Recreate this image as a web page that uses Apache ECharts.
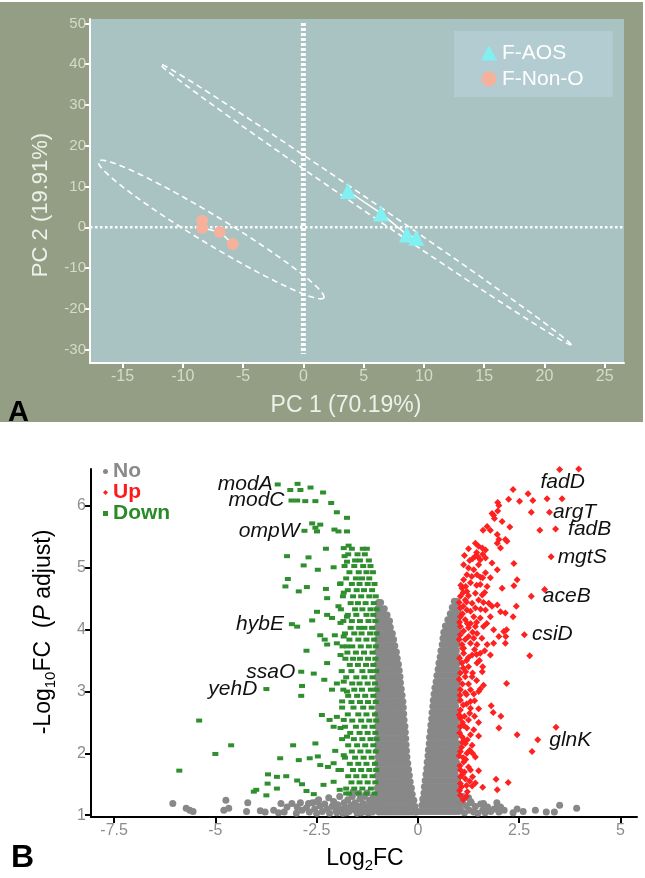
<!DOCTYPE html>
<html><head><meta charset="utf-8">
<script src="https://cdn.jsdelivr.net/npm/echarts@6.0.0/dist/echarts.min.js"></script>
<style>html,body{margin:0;padding:0;background:#fff}#c{width:645px;height:878px}</style>
</head><body><div id="c"></div><script>
// ---------- Panel A data (PCA) ----------
const aosPC1 = [3.7, 6.44, 8.59, 9.36];
const aosPC2 = [8.9, 3.4, -1.8, -2.6];
const nonPC1 = [-8.4, -8.4, -6.93, -5.86];
const nonPC2 = [1.6, -0.2, -1.15, -4.1];
// ellipse: centre x, centre y, half major vector (x,y), half minor vector (x,y)
const ellipseAOS = [5.17, 5.6, 17.03, -34.4, 0.28, 1.22];
const ellipseNon = [-7.65, -0.55, 9.34, -16.75, 0.6, 2.94];
const refVertical = [[0, 50.1], [0, -31.1]];
const refHorizontal = [[-17.7, 0], [26.5, 0]];
const pcaXTicks = [-15, -10, -5, 0, 5, 10, 15, 20, 25];
const pcaYTicks = [-30, -20, -10, 0, 10, 20, 30, 40, 50];

// ---------- Panel B data (volcano) ----------
const volXTicks = [-7.5, -5, -2.5, 0, 2.5, 5];
const volYTicks = [1, 2, 3, 4, 5, 6];
const grayLeftRows = [
[4.44,[-0.97,-0.92]],
[4.34,[-0.99,-0.91,-0.83]],
[4.24,[-1.0,-0.92,-0.84,-0.76]],
[4.14,[-0.99,-0.91,-0.83,-0.75,-0.7]],
[4.04,[-1.0,-0.92,-0.84,-0.76,-0.68]],
[3.94,[-0.98,-0.9,-0.82,-0.74,-0.66,-0.63]],
[3.84,[-1.0,-0.92,-0.84,-0.76,-0.68,-0.6]],
[3.74,[-0.99,-0.91,-0.83,-0.75,-0.67,-0.59,-0.57]],
[3.64,[-1.0,-0.92,-0.84,-0.76,-0.68,-0.6,-0.53]],
[3.54,[-0.98,-0.9,-0.82,-0.74,-0.66,-0.58,-0.51]],
[3.44,[-1.0,-0.92,-0.84,-0.76,-0.68,-0.6,-0.52,-0.48]],
[3.34,[-0.99,-0.91,-0.83,-0.75,-0.67,-0.59,-0.51,-0.46]],
[3.24,[-1.0,-0.92,-0.84,-0.76,-0.68,-0.6,-0.52,-0.44]],
[3.14,[-0.98,-0.9,-0.82,-0.74,-0.66,-0.58,-0.5,-0.43]],
[3.04,[-1.0,-0.92,-0.84,-0.76,-0.68,-0.6,-0.52,-0.44,-0.41]],
[2.94,[-0.99,-0.91,-0.83,-0.75,-0.67,-0.59,-0.51,-0.43,-0.39]],
[2.84,[-1.0,-0.92,-0.84,-0.76,-0.68,-0.6,-0.52,-0.44,-0.37]],
[2.74,[-0.98,-0.9,-0.82,-0.74,-0.66,-0.58,-0.5,-0.42,-0.36]],
[2.64,[-1.0,-0.92,-0.84,-0.76,-0.68,-0.6,-0.52,-0.44,-0.35]],
[2.54,[-0.99,-0.91,-0.83,-0.75,-0.67,-0.59,-0.51,-0.43,-0.34]],
[2.44,[-1.0,-0.92,-0.84,-0.76,-0.68,-0.6,-0.52,-0.44,-0.36,-0.32]],
[2.34,[-0.98,-0.9,-0.82,-0.74,-0.66,-0.58,-0.5,-0.42,-0.34,-0.31]],
[2.24,[-1.0,-0.92,-0.84,-0.76,-0.68,-0.6,-0.52,-0.44,-0.36,-0.3]],
[2.14,[-0.99,-0.91,-0.83,-0.75,-0.67,-0.59,-0.51,-0.43,-0.35,-0.29]],
[2.04,[-1.0,-0.92,-0.84,-0.76,-0.68,-0.6,-0.52,-0.44,-0.36,-0.28]],
[1.94,[-0.98,-0.9,-0.82,-0.74,-0.66,-0.58,-0.5,-0.42,-0.34,-0.27]],
[1.84,[-1.0,-0.92,-0.84,-0.76,-0.68,-0.6,-0.52,-0.44,-0.36,-0.28,-0.25]],
[1.74,[-0.99,-0.91,-0.83,-0.75,-0.67,-0.59,-0.51,-0.43,-0.35,-0.27,-0.23]],
[1.64,[-1.0,-0.92,-0.84,-0.76,-0.68,-0.6,-0.52,-0.44,-0.36,-0.28,-0.21]],
[1.54,[-0.98,-0.9,-0.82,-0.74,-0.66,-0.58,-0.5,-0.42,-0.34,-0.26,-0.19]],
[1.44,[-1.0,-0.92,-0.84,-0.76,-0.68,-0.6,-0.52,-0.44,-0.36,-0.28,-0.2,-0.16]],
[1.34,[-1.02,-0.94,-0.86,-0.78,-0.7,-0.62,-0.54,-0.46,-0.38,-0.3,-0.22,-0.14]],
[1.24,[-1.04,-0.96,-0.88,-0.8,-0.72,-0.64,-0.56,-0.48,-0.4,-0.32,-0.24,-0.16,-0.1]],
[1.14,[-1.0,-0.92,-0.84,-0.76,-0.68,-0.6,-0.52,-0.44,-0.36,-0.28,-0.2,-0.12,-0.07]],
[1.05,[-0.96,-0.88,-0.8,-0.72,-0.64,-0.56,-0.48,-0.4,-0.32,-0.24,-0.16,-0.08,-0.03]]
];
const grayRightRows = [
[4.46,[0.9,0.96]],
[4.36,[0.85,0.92,0.98]],
[4.26,[0.8,0.87,0.94,1.0]],
[4.16,[0.74,0.81,0.88,0.95]],
[4.06,[0.68,0.76,0.83,0.9,0.97]],
[3.96,[0.64,0.71,0.79,0.86,0.93,0.99]],
[3.86,[0.62,0.7,0.77,0.85,0.92,0.98]],
[3.76,[0.6,0.68,0.76,0.83,0.9,0.97]],
[3.66,[0.57,0.65,0.73,0.81,0.88,0.95]],
[3.56,[0.55,0.63,0.71,0.79,0.87,0.94,0.99]],
[3.46,[0.52,0.6,0.68,0.76,0.84,0.92,0.98]],
[3.36,[0.5,0.58,0.66,0.74,0.82,0.9,0.97]],
[3.26,[0.47,0.55,0.63,0.71,0.79,0.87,0.95]],
[3.16,[0.45,0.53,0.61,0.69,0.77,0.85,0.93,0.99]],
[3.06,[0.42,0.5,0.58,0.66,0.74,0.82,0.9,0.97]],
[2.96,[0.4,0.48,0.56,0.64,0.72,0.8,0.88,0.95]],
[2.86,[0.38,0.46,0.54,0.62,0.7,0.78,0.86,0.94,0.99]],
[2.76,[0.37,0.45,0.53,0.61,0.69,0.77,0.85,0.93]],
[2.66,[0.35,0.43,0.51,0.59,0.67,0.75,0.83,0.91,0.98]],
[2.56,[0.34,0.42,0.5,0.58,0.66,0.74,0.82,0.9,0.97]],
[2.46,[0.32,0.4,0.48,0.56,0.64,0.72,0.8,0.88,0.95]],
[2.36,[0.31,0.39,0.47,0.55,0.63,0.71,0.79,0.87,0.94,0.99]],
[2.26,[0.29,0.37,0.45,0.53,0.61,0.69,0.77,0.85,0.93]],
[2.16,[0.28,0.36,0.44,0.52,0.6,0.68,0.76,0.84,0.92,0.98]],
[2.06,[0.26,0.34,0.42,0.5,0.58,0.66,0.74,0.82,0.9,0.97]],
[1.96,[0.25,0.33,0.41,0.49,0.57,0.65,0.73,0.81,0.89,0.96]],
[1.86,[0.23,0.31,0.39,0.47,0.55,0.63,0.71,0.79,0.87,0.95]],
[1.76,[0.22,0.3,0.38,0.46,0.54,0.62,0.7,0.78,0.86,0.94,0.99]],
[1.66,[0.2,0.28,0.36,0.44,0.52,0.6,0.68,0.76,0.84,0.92]],
[1.56,[0.18,0.26,0.34,0.42,0.5,0.58,0.66,0.74,0.82,0.9,0.97]],
[1.46,[0.16,0.24,0.32,0.4,0.48,0.56,0.64,0.72,0.8,0.88,0.96]],
[1.36,[0.15,0.23,0.31,0.39,0.47,0.55,0.63,0.71,0.79,0.87,0.95]],
[1.26,[0.12,0.2,0.28,0.36,0.44,0.52,0.6,0.68,0.76,0.84,0.92,1.0]],
[1.16,[0.1,0.18,0.26,0.34,0.42,0.5,0.58,0.66,0.74,0.82,0.9,0.98]],
[1.06,[0.05,0.12,0.2,0.28,0.36,0.44,0.52,0.6,0.68,0.76,0.84,0.92,1.0]]
];
const grayScatter = [
[-6.05,1.19],[-5.72,1.11],[-5.63,1.08],[-5.55,1.06],[-4.74,1.24],[-4.79,1.08],[-4.67,1.11],[-4.2,1.2],[-4.23,1.06],
[-3.89,1.07],[-3.77,1.05],[-3.56,1.08],[-3.44,1.04],[-3.38,1.19],[-3.3,1.05],[-3.23,1.13],[-3.11,1.19],[-3.0,1.03],
[-2.98,1.13],[-2.9,1.2],[-2.86,1.08],[-2.75,1.12],[-2.7,1.19],[-2.68,1.05],[-2.6,1.2],[-2.55,1.1],[-2.5,1.03],
[-2.49,1.22],[-2.45,1.25],[-2.42,1.15],[-2.36,1.06],[-2.3,1.18],[-2.25,1.1],[-2.2,1.28],[-2.18,1.03],[-2.12,1.14],
[-2.08,1.22],[-2.02,1.07],[-2.0,1.04],[-1.98,1.17],[-1.93,1.3],[-1.9,1.1],[-1.88,1.08],[-1.85,1.03],[-1.82,1.2],
[-1.78,1.12],[-1.76,1.04],[-1.73,1.25],[-1.7,1.06],[-1.65,1.16],[-1.64,1.1],[-1.62,1.3],[-1.6,1.38],[-1.58,1.09],
[-1.55,1.2],[-1.52,1.07],[-1.5,1.03],[-1.47,1.14],[-1.45,1.35],[-1.43,1.26],[-1.4,1.08],[-1.4,1.04],[-1.35,1.19],
[-1.32,1.3],[-1.3,1.12],[-1.28,1.05],[-1.25,1.14],[-1.25,1.36],[-1.22,1.04],[-1.2,1.24],[-1.17,1.07],[-1.13,1.17],
[-1.12,1.05],[-1.1,1.3],[-1.06,1.1],[-1.03,1.2],
[1.05,1.1],[1.1,1.2],[1.12,1.3],[1.15,1.04],[1.2,1.15],[1.25,1.28],[1.27,1.08],[1.3,1.22],[1.32,1.2],[1.38,1.05],
[1.42,1.14],[1.48,1.03],[1.55,1.18],[1.6,1.08],[1.62,1.19],[1.66,1.04],[1.72,1.13],[1.8,1.06],[1.88,1.1],[1.95,1.2],
[1.96,1.13],[2.0,1.05],[2.04,1.13],[2.13,1.08],[2.35,1.04],[2.45,1.1],[2.6,1.06],[2.9,1.08],[3.17,1.05],[3.37,1.05],
[3.5,1.16],[3.92,1.11]
];
const greenRows = [
[5.31,[-1.63,-1.36,-1.26]],
[5.22,[-1.72,-1.49,-1.31]],
[5.12,[-1.55,-1.43,-1.21]],
[5.03,[-1.81,-1.57,-1.35,-1.17]],
[4.93,[-1.69,-1.46,-1.27,-1.11]],
[4.83,[-1.77,-1.53,-1.38,-1.2]],
[4.74,[-1.92,-1.63,-1.44,-1.24,-1.07]],
[4.64,[-1.73,-1.51,-1.33,-1.13]],
[4.54,[-1.85,-1.6,-1.4,-1.2,-1.04]],
[4.43,[-1.66,-1.48,-1.29,-1.09]],
[4.33,[-1.9,-1.55,-1.37,-1.17,-1.02]],
[4.24,[-1.73,-1.52,-1.27,-1.1]],
[4.14,[-1.84,-1.63,-1.43,-1.22,-1.05]],
[4.03,[-1.66,-1.45,-1.32,-1.13]],
[3.94,[-1.8,-1.57,-1.39,-1.18,-1.02]],
[3.84,[-1.69,-1.47,-1.27,-1.08]],
[3.73,[-1.86,-1.62,-1.41,-1.21,-1.04]],
[3.63,[-1.74,-1.53,-1.33,-1.12]],
[3.53,[-1.79,-1.6,-1.43,-1.23,-1.05]],
[3.43,[-1.68,-1.48,-1.28,-1.1]],
[3.33,[-1.88,-1.64,-1.37,-1.17,-1.03]],
[3.23,[-1.77,-1.52,-1.32,-1.12]],
[3.13,[-1.62,-1.44,-1.24,-1.06]],
[3.03,[-1.84,-1.57,-1.38,-1.16,-1.02]],
[2.93,[-1.72,-1.5,-1.3,-1.1]],
[2.83,[-1.64,-1.43,-1.23,-1.04]],
[2.74,[-1.87,-1.59,-1.35,-1.14]],
[2.63,[-1.73,-1.47,-1.27,-1.06]],
[2.53,[-1.62,-1.4,-1.2,-1.03]],
[2.43,[-1.8,-1.53,-1.32,-1.12]],
[2.33,[-1.67,-1.44,-1.24,-1.05]],
[2.23,[-1.87,-1.58,-1.37,-1.17,-1.02]],
[2.13,[-1.72,-1.5,-1.3,-1.1]],
[2.03,[-1.63,-1.42,-1.22,-1.04]],
[1.93,[-1.8,-1.55,-1.34,-1.14]],
[1.83,[-1.68,-1.47,-1.27,-1.06]],
[1.73,[-1.9,-1.6,-1.4,-1.2,-1.03]],
[1.63,[-1.72,-1.52,-1.32,-1.12]],
[1.53,[-1.64,-1.44,-1.24,-1.05]],
[1.43,[-1.77,-1.57,-1.37,-1.16]],
[1.35,[-1.7,-1.47,-1.27,-1.07]]
];
const greenScatter = [
[-3.15,6.26],[-2.97,6.36],[-2.9,6.26],[-2.65,6.3],[-2.34,6.22],[-2.98,6.09],[-2.78,6.08],[-2.53,6.08],[-2.14,6.05],
[-2.0,5.9],[-1.75,5.81],[-2.61,5.72],[-2.53,5.65],[-2.41,5.7],[-2.49,5.59],[-2.06,5.62],[-1.96,5.59],[-1.75,5.59],
[-3.23,5.19],[-2.7,5.17],[-2.27,5.31],[-1.83,5.32],[-1.71,5.36],[-2.82,5.04],[-2.47,4.97],[-2.08,5.01],[-1.81,5.19],
[-1.75,5.1],[-3.21,4.82],[-3.27,4.7],[-2.94,4.62],[-2.74,4.69],[-2.27,4.66],[-1.91,4.75],[-2.24,4.51],[-1.83,4.6],
[-2.98,4.05],[-2.61,4.15],[-2.49,4.29],[-2.24,4.24],[-2.12,4.19],[-1.91,4.11],[-1.75,4.21],[-2.41,3.91],[-2.05,3.91],
[-1.83,3.89],[-1.96,4.38],[-2.3,3.84],[-2.24,3.76],[-2.0,3.78],[-1.75,3.73],[-2.75,3.66],[-2.24,3.46],[-1.91,3.59],
[-2.57,3.29],[-2.31,3.19],[-2.0,3.13],[-1.83,3.16],[-2.86,3.09],[-2.88,2.93],[-2.12,3.03],[-1.75,3.0],[-1.87,2.84],
[-2.37,2.62],[-2.18,2.54],[-2.0,2.59],[-1.83,2.54],[-2.08,2.43],[-1.91,2.41],[-1.75,2.27],[-5.4,2.53],[-4.61,2.13],
[-5.0,1.99],[-5.89,1.72],[-3.08,2.13],[-2.53,2.16],[-2.04,2.04],[-1.83,1.97],[-2.94,1.89],[-2.67,1.92],[-2.47,1.95],
[-2.41,1.81],[-2.22,1.78],[-2.08,1.84],[-1.96,1.73],[-3.7,1.66],[-3.48,1.62],[-3.25,1.63],[-2.98,1.56],[-2.86,1.5],
[-3.71,1.51],[-3.48,1.43],[-3.99,1.41],[-4.05,1.38],[-2.75,1.39],[-2.57,1.34],[-2.33,1.49],[-2.08,1.54],[-1.93,1.41],
[-1.77,1.35],[-3.74,1.32],[-3.4,1.92]
];
const redScatter = [
[3.97,6.6],[2.35,6.27],[2.72,6.2],[2.24,6.11],[2.51,6.08],[2.84,6.09],[3.19,6.12],[3.56,6.12],[1.97,6.06],[2.8,5.9],
[1.87,5.85],[2.08,5.75],[1.71,5.67],[2.27,5.66],[3.01,5.61],[2.0,5.46],[2.2,5.43],[2.37,5.07],[2.45,4.81],[2.08,4.67],
[3.13,4.65],[2.43,4.38],[2.35,4.21],[2.19,4.0],[2.17,3.89],[2.76,3.58],[2.19,3.13],[1.81,2.77],[2.05,2.6],[1.5,2.5],
[2.0,2.41],[2.45,2.3],[3.41,2.42],[2.82,2.03],[1.93,1.58],[2.23,1.53],[1.96,1.41],[1.42,1.52],
[2.0,6.01],[1.97,5.92],[1.83,5.88],[1.89,5.8],[1.61,5.61],[1.79,5.61],[1.96,5.54],[2.16,5.46],[1.96,5.4],[2.04,5.32],
[1.42,5.4],[1.5,5.35],[1.59,5.32],[1.67,5.29],[1.25,5.31],[1.42,5.19],[1.54,5.13],[1.67,5.16],[1.83,5.08],[1.96,4.97],
[1.13,5.05],[1.25,5.0],[1.38,4.97],[1.21,4.89],[1.46,4.89],[1.67,4.92],[1.79,4.84],[1.13,4.81],[1.3,4.76],[1.54,4.73],
[1.71,4.7],[1.09,4.67],[1.21,4.62],[1.42,4.59],[1.59,4.56],[2.37,4.71],[1.05,4.54],[1.17,4.48],[1.34,4.43],[1.5,4.48],
[1.75,4.43],[1.96,4.4],[1.05,4.35],[1.21,4.32],[1.42,4.35],[1.67,4.32],[1.83,4.38],[2.04,4.29],[2.16,4.27],[1.05,4.21],
[1.17,4.16],[1.38,4.21],[1.54,4.19],[1.79,4.21],[1.05,4.05],[1.25,4.03],[1.42,4.05],[1.62,4.05],[1.87,4.0],[2.12,3.97],
[1.05,3.92],[1.25,3.89],[1.46,3.94],[1.17,3.84],[1.38,3.86],[2.0,3.89],[1.09,3.76],[1.3,3.78],[1.46,3.76],[1.71,3.76],
[1.87,3.78],[2.16,3.78],[1.13,3.62],[1.34,3.59],[1.54,3.62],[1.79,3.59],[1.09,3.46],[1.25,3.4],[1.46,3.46],[1.59,3.32],
[1.05,3.3],[1.17,3.24],[1.34,3.24],[1.05,3.03],[1.3,3.03],[1.54,3.04],[1.05,2.86],[1.3,2.84],[1.05,2.7],[1.3,2.73],
[1.86,2.66],[1.05,2.57],[1.25,2.54],[1.05,2.43],[1.21,2.41],[1.38,2.38],[1.09,2.27],[1.17,2.16],[1.34,2.13],[1.05,2.03],
[1.21,2.0],[1.42,1.94],[1.13,1.86],[1.25,1.78],[1.05,1.73],[1.3,1.73],[1.05,1.62],[1.17,1.59],[1.05,1.51],[1.34,1.47],
[1.05,1.32],[1.03,1.4],[1.08,1.46],[1.1,1.66],[1.04,1.8],[1.12,1.93],[1.02,1.96],[1.08,2.1],[1.14,2.22],[1.03,2.33],
[1.1,2.5],[1.02,2.62],[1.12,2.78],[1.04,2.94],[1.1,3.12],[1.02,3.2],[1.12,3.38],[1.03,3.54],[1.1,3.7],[1.02,3.84],
[1.13,3.98],[1.03,4.12],[1.1,4.26],[1.02,4.44],[1.12,4.6],[1.06,4.72],[1.2,4.45],[1.3,4.1],[1.25,3.55],[1.35,3.3],
[1.2,2.95],[1.28,2.65],[1.22,2.22],[1.18,1.9],[1.28,1.55],[1.22,1.38],[1.4,2.85],[1.45,3.6],[1.5,3.0],[1.35,2.0],
[1.6,3.4],[1.7,4.1],[1.65,4.6],[1.55,4.85],[1.35,5.15],[1.45,5.25],[1.5,5.05],[1.6,5.22],
[1.15,5.2],[1.28,5.12],[1.48,5.18],[1.33,4.86],[1.6,4.84],[1.18,4.7],[1.45,4.72],[1.25,4.55],[1.62,4.44],[1.3,4.3],
[1.55,4.33],[1.12,4.38],[1.45,4.12],[1.22,4.1],[1.35,3.96],[1.58,3.86],[1.13,3.7],[1.4,3.68],[1.65,3.66],[1.2,3.5],
[1.52,3.5],[1.18,3.32],[1.45,3.18],[1.25,3.12],[1.62,3.1],[1.17,2.98],[1.38,2.96],[1.2,2.8],[1.5,2.72],[1.15,2.6],
[1.4,2.6],[1.13,2.45],[1.3,2.3],[1.5,2.28],[1.1,2.18],[1.28,2.05],[1.15,1.7],[1.35,1.62],[1.2,1.48],[1.5,1.72],
[1.6,1.45],[1.12,1.25],[1.2,1.3]
];
const downGenes = ['modA','modC','ompW','hybE','ssaO','yehD'];
const downGeneX = [-3.46,-3.12,-2.8,-3.11,-2.88,-3.74];
const downGeneY = [6.35,6.09,5.6,4.09,3.32,3.04];
const upGenes = ['fadD','argT','fadB','mgtS','aceB','csiD','glnK'];
const upGeneX = [3.5,3.25,3.4,3.29,2.8,2.63,2.96];
const upGeneY = [6.59,5.9,5.63,5.18,4.54,3.92,2.22];

// ---------- build ----------
const FONT = 'Liberation Sans, Arial, sans-serif';
function rowsToPoints(rows){ const out=[]; rows.forEach(r=>r[1].forEach(x=>out.push([x,r[0]]))); return out; }
const grayData = rowsToPoints(grayLeftRows).concat(rowsToPoints(grayRightRows), grayScatter);
const geneLabelBase = {show:true, color:'#111', fontSize:21, fontStyle:'italic', fontFamily:FONT};
const downDist = [2,4,2,5,3,6];
const greenData = rowsToPoints(greenRows).concat(greenScatter).map(p=>({value:p}));
downGenes.forEach((g,i)=>greenData.push({value:[downGeneX[i],downGeneY[i]], name:g,
  label:Object.assign({}, geneLabelBase, {formatter:g, position:'left', distance:downDist[i]})}));
const upPos = ['bottom','right','right','right','right','right','right'];
const upDist = [-1,0,9,3,8,4,8];
const redData = redScatter.map(p=>({value:p}));
upGenes.forEach((g,i)=>redData.push({value:[upGeneX[i],upGeneY[i]], name:g,
  label:Object.assign({}, geneLabelBase, {formatter:g, position:upPos[i], distance:upDist[i], offset: i===0?[3,0]:[0,0]})}));

const aosPts = aosPC1.map((v,i)=>[v,aosPC2[i]]);
const nonPts = nonPC1.map((v,i)=>[v,nonPC2[i]]);

const chart = echarts.init(document.getElementById('c'), null, {renderer:'canvas'});
chart.setOption({
  animation:false,
  textStyle:{fontFamily:FONT},
  graphic:[
    {type:'rect', z:-100, silent:true, shape:{x:0,y:2,width:643,height:420}, style:{fill:'#949e84'}},
    {type:'text', z:100, x:8, y:398, style:{text:'A', font:'bold 29px '+FONT, fill:'#000'}},
    {type:'text', z:100, x:346, y:406, style:{text:'PC 1 (70.19%)', font:'23px '+FONT, fill:'#eef0ea', align:'center', verticalAlign:'middle'}},
    {type:'text', z:100, x:41, y:205, rotation:Math.PI/2, style:{text:'PC 2 (19.91%)', font:'22px '+FONT, fill:'#eef0ea', align:'center', verticalAlign:'middle'}},
    {type:'text', z:100, x:11, y:842, style:{text:'B', font:'bold 32px '+FONT, fill:'#000'}},
    {type:'text', z:100, x:365, y:859, style:{
      text:'{a|Log}{s|2}{a|FC}', align:'center', verticalAlign:'middle', fill:'#000',
      rich:{a:{fontSize:23, lineHeight:28, fontFamily:FONT, fill:'#000'}, s:{fontSize:15, lineHeight:16, verticalAlign:'bottom', fontFamily:FONT, fill:'#000'}}}},
    {type:'text', z:100, x:44, y:632, rotation:Math.PI/2, style:{
      text:'{a|-Log}{s|10}{a|FC  (}{i|P}{a| adjust)}', align:'center', verticalAlign:'middle', fill:'#000',
      rich:{a:{fontSize:23, lineHeight:28, fontFamily:FONT, fill:'#000'}, s:{fontSize:15, lineHeight:16, verticalAlign:'bottom', fontFamily:FONT, fill:'#000'},
            i:{fontSize:23, lineHeight:28, fontStyle:'italic', fontFamily:FONT, fill:'#000'}}}}
  ],
  legend:[
    {data:['F-AOS','F-Non-O'], orient:'vertical', left:454, top:31, backgroundColor:'#b3ccd1',
     padding:[10,29,6,27], itemGap:2, itemWidth:16, itemHeight:15, selectedMode:false,
     textStyle:{color:'#ffffff', fontSize:21, fontFamily:FONT, lineHeight:24}},
    {data:[{name:'No', textStyle:{color:'#8a8a8a'}}, {name:'Up', textStyle:{color:'#ff1a1a'}}, {name:'Down', textStyle:{color:'#2a8a2a'}}],
     orient:'vertical', left:103, top:461, padding:0, itemGap:0, itemWidth:5, itemHeight:5, selectedMode:false,
     textStyle:{fontSize:21, fontWeight:'bold', fontFamily:FONT, lineHeight:21}}
  ],
  grid:[
    {left:90, top:19, width:534, height:344, show:true, backgroundColor:'#a9c3c3', borderWidth:0},
    {left:91, top:469, width:546, height:348, show:false}
  ],
  xAxis:[
    {type:'value', gridIndex:0, min:-17.7, max:26.6, splitLine:{show:false},
     axisLine:{onZero:false, lineStyle:{color:'#ffffff', width:2}},
     axisTick:{length:5, customValues:pcaXTicks, lineStyle:{color:'#ffffff', width:2}},
     axisLabel:{color:'#d6dac8', fontSize:16, margin:6, fontFamily:FONT, customValues:pcaXTicks}},
    {type:'value', gridIndex:1, min:-8.07, max:5.41, splitLine:{show:false},
     axisLine:{onZero:false, lineStyle:{color:'#000', width:2}},
     axisTick:{length:6, customValues:volXTicks, lineStyle:{color:'#000', width:2}},
     axisLabel:{color:'#8c8c8c', fontSize:16, margin:6, fontFamily:FONT, customValues:volXTicks}}
  ],
  yAxis:[
    {type:'value', gridIndex:0, min:-33.3, max:51.1, splitLine:{show:false},
     axisLine:{show:true, onZero:false, lineStyle:{color:'#ffffff', width:2}},
     axisTick:{show:true, length:6, customValues:pcaYTicks, lineStyle:{color:'#ffffff', width:2}},
     axisLabel:{color:'#d6dac8', fontSize:15, margin:4, fontFamily:FONT, customValues:pcaYTicks}},
    {type:'value', gridIndex:1, min:0.97, max:6.6, splitLine:{show:false},
     axisLine:{show:true, onZero:false, lineStyle:{color:'#000', width:2}},
     axisTick:{show:true, length:6, customValues:volYTicks, lineStyle:{color:'#000', width:2}},
     axisLabel:{color:'#8c8c8c', fontSize:16, margin:5, fontFamily:FONT, customValues:volYTicks}}
  ],
  series:[
    {type:'custom', xAxisIndex:0, yAxisIndex:0, silent:true, z:3, clip:true,
     data:[ellipseAOS, ellipseNon],
     renderItem:(params, api)=>{
       const cx=api.value(0), cy=api.value(1), ax=api.value(2), ay=api.value(3), bx=api.value(4), by=api.value(5);
       const pts=[];
       for(let k=0;k<180;k++){ const t=k/180*2*Math.PI;
         pts.push(api.coord([cx+ax*Math.cos(t)+bx*Math.sin(t), cy+ay*Math.cos(t)+by*Math.sin(t)])); }
       return {type:'polygon', shape:{points:pts}, style:{fill:'transparent', stroke:'#ffffff', lineWidth:1.6, lineDash:[6,4]}};
     }},
    {type:'line', xAxisIndex:0, yAxisIndex:0, data:refVertical, symbol:'none', silent:true, z:2,
     lineStyle:{color:'#ffffff', width:5, type:[3,2]}},
    {type:'line', xAxisIndex:0, yAxisIndex:0, data:refHorizontal, symbol:'none', silent:true, z:2,
     lineStyle:{color:'#ffffff', width:2.5, type:[2.5,2.5]}},
    {type:'line', xAxisIndex:0, yAxisIndex:0, data:aosPts, symbol:'none', silent:true, z:4,
     lineStyle:{color:'#ffffff', width:1.5}},
    {type:'line', xAxisIndex:0, yAxisIndex:0, data:nonPts, symbol:'none', silent:true, z:4,
     lineStyle:{color:'#ffffff', width:1.5}},
    {name:'F-AOS', type:'scatter', xAxisIndex:0, yAxisIndex:0, data:aosPts, symbol:'triangle', symbolSize:16, z:5,
     itemStyle:{color:'#80f0f3', opacity:1}},
    {name:'F-Non-O', type:'scatter', xAxisIndex:0, yAxisIndex:0, data:nonPts, symbol:'circle', symbolSize:12, z:5,
     itemStyle:{color:'#f6b19c', opacity:1}},
    {name:'No', type:'scatter', xAxisIndex:1, yAxisIndex:1, data:grayData, symbol:'circle', symbolSize:7, z:2,
     itemStyle:{color:'#888888', opacity:1}},
    {name:'Down', type:'scatter', xAxisIndex:1, yAxisIndex:1, data:greenData, symbol:'rect', symbolSize:[6,4], z:3,
     itemStyle:{color:'#2f8f2f', opacity:1}},
    {name:'Up', type:'scatter', xAxisIndex:1, yAxisIndex:1, data:redData, symbol:'diamond', symbolSize:7, z:3,
     itemStyle:{color:'#ff2020', opacity:1}}
  ]
});
</script></body></html>
